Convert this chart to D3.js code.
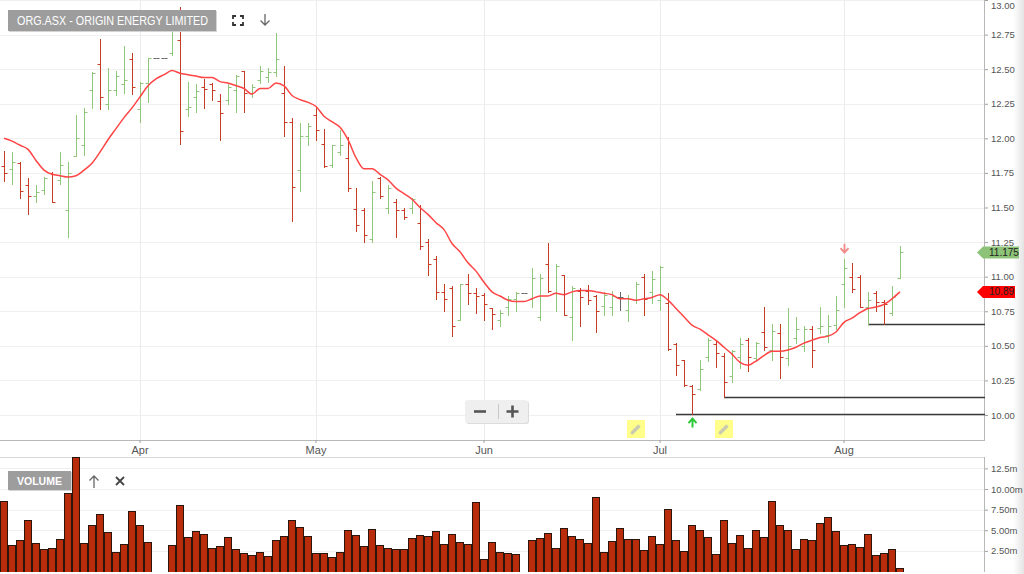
<!DOCTYPE html>
<html>
<head>
<meta charset="utf-8">
<script src="https://cdnjs.cloudflare.com/ajax/libs/d3/7.8.5/d3.min.js"></script>
<style>
html, body { margin: 0; padding: 0; background: #fff; overflow: hidden; }
svg { display: block; font-family: "Liberation Sans", Arial, sans-serif; }
</style>
</head>
<body>
<svg id="chart" width="1024" height="574"></svg>
<script>
// ORG.ASX daily bars, 9 Mar - 12 Aug 2015 (holidays kept as flat bars, zero volume)
var dates = [
  "2015-03-09","2015-03-10","2015-03-11","2015-03-12","2015-03-13","2015-03-16","2015-03-17","2015-03-18","2015-03-19",
  "2015-03-20","2015-03-23","2015-03-24","2015-03-25","2015-03-26","2015-03-27","2015-03-30","2015-03-31",
  "2015-04-01","2015-04-02","2015-04-03","2015-04-06","2015-04-07","2015-04-08","2015-04-09","2015-04-10","2015-04-13",
  "2015-04-14","2015-04-15","2015-04-16","2015-04-17","2015-04-20","2015-04-21","2015-04-22","2015-04-23","2015-04-24",
  "2015-04-27","2015-04-28","2015-04-29","2015-04-30",
  "2015-05-01","2015-05-04","2015-05-05","2015-05-06","2015-05-07","2015-05-08","2015-05-11","2015-05-12","2015-05-13",
  "2015-05-14","2015-05-15","2015-05-18","2015-05-19","2015-05-20","2015-05-21","2015-05-22","2015-05-25","2015-05-26",
  "2015-05-27","2015-05-28","2015-05-29",
  "2015-06-01","2015-06-02","2015-06-03","2015-06-04","2015-06-05","2015-06-08","2015-06-09","2015-06-10","2015-06-11",
  "2015-06-12","2015-06-15","2015-06-16","2015-06-17","2015-06-18","2015-06-19","2015-06-22","2015-06-23","2015-06-24",
  "2015-06-25","2015-06-26","2015-06-29","2015-06-30",
  "2015-07-01","2015-07-02","2015-07-03","2015-07-06","2015-07-07","2015-07-08","2015-07-09","2015-07-10","2015-07-13",
  "2015-07-14","2015-07-15","2015-07-16","2015-07-17","2015-07-20","2015-07-21","2015-07-22","2015-07-23","2015-07-24",
  "2015-07-27","2015-07-28","2015-07-29","2015-07-30","2015-07-31",
  "2015-08-03","2015-08-04","2015-08-05","2015-08-06","2015-08-07","2015-08-10","2015-08-11","2015-08-12"
];
var holidays = ["2015-04-03", "2015-04-06", "2015-06-08"];

var open = [
  11.80,11.78,11.82,11.66,11.58,11.63,11.75,11.70,11.48,11.87,11.95,12.35,12.54,12.25,12.35,12.39,12.57,
  12.21,12.40,12.58,12.58,12.62,12.71,12.21,12.30,12.37,12.39,12.27,12.28,12.35,12.49,12.33,12.42,12.44,12.48,12.33,12.12,11.77,12.02,
  12.17,11.96,11.81,11.90,11.86,11.49,11.48,11.27,11.71,11.50,11.54,11.48,11.50,11.39,11.25,11.13,10.89,10.92,10.69,10.95,10.88,
  10.87,10.77,10.69,10.78,10.84,10.88,10.84,10.71,11.09,10.88,11.01,10.71,10.90,10.90,10.86,10.79,10.78,10.85,10.76,10.83,11.00,10.89,
  10.83,10.81,10.51,10.40,10.21,10.19,10.42,10.51,10.43,10.28,10.42,10.54,10.41,10.60,10.47,10.59,10.41,10.56,10.50,10.62,10.63,10.58,10.65,
  10.95,11.00,11.00,10.78,10.88,10.82,10.74,10.99
];
var high = [
  11.91,11.90,11.83,11.71,11.66,11.72,11.76,11.90,11.83,12.17,12.22,12.48,12.72,12.51,12.49,12.67,12.62,
  12.41,12.58,12.58,12.58,12.93,12.95,12.41,12.39,12.43,12.40,12.32,12.39,12.46,12.49,12.39,12.52,12.51,12.76,12.52,12.15,12.11,12.11,
  12.23,12.07,11.95,12.06,12.01,11.64,11.50,11.69,11.72,11.66,11.56,11.50,11.57,11.52,11.27,11.15,10.95,10.93,10.95,11.02,10.92,
  10.88,10.77,10.76,10.86,10.89,10.88,11.06,11.02,11.24,11.09,11.01,10.93,10.92,10.94,10.87,10.89,10.90,10.89,10.87,10.96,11.02,11.04,
  11.08,10.88,10.52,10.40,10.22,10.40,10.56,10.54,10.45,10.47,10.56,10.56,10.53,10.78,10.66,10.66,10.77,10.71,10.64,10.64,10.78,10.72,10.86,
  11.13,11.10,11.01,10.89,10.90,10.83,10.93,11.22
];
var low = [
  11.69,11.67,11.57,11.45,11.54,11.60,11.54,11.67,11.29,11.87,11.88,12.22,12.21,12.21,12.31,12.33,12.32,
  12.12,12.26,12.58,12.58,12.60,11.96,12.16,12.19,12.22,12.28,11.99,12.25,12.19,12.19,12.30,12.40,12.41,12.45,12.02,11.40,11.62,11.95,
  11.99,11.79,11.79,11.88,11.62,11.33,11.25,11.25,11.57,11.46,11.29,11.42,11.46,11.20,11.01,10.84,10.75,10.57,10.69,10.80,10.74,
  10.69,10.62,10.64,10.72,10.75,10.88,10.78,10.69,10.89,10.75,10.72,10.54,10.64,10.80,10.60,10.72,10.72,10.76,10.68,10.81,10.72,10.81,
  10.76,10.47,10.29,10.21,10.01,10.18,10.39,10.35,10.13,10.24,10.34,10.32,10.39,10.47,10.40,10.27,10.36,10.52,10.46,10.35,10.59,10.53,10.62,
  10.78,10.89,10.78,10.66,10.75,10.66,10.72,10.99
];
var close = [
  11.75,11.83,11.62,11.58,11.61,11.71,11.54,11.81,11.75,12.00,12.19,12.47,12.30,12.35,12.45,12.42,12.37,
  12.40,12.58,12.58,12.58,12.80,12.05,12.23,12.34,12.36,12.35,12.18,12.37,12.45,12.33,12.37,12.49,12.48,12.57,12.12,11.65,12.02,12.09,
  12.06,11.80,11.95,11.95,11.64,11.37,11.30,11.61,11.58,11.64,11.48,11.43,11.56,11.22,11.09,10.89,10.84,10.64,10.95,10.88,10.86,
  10.80,10.73,10.74,10.84,10.88,10.88,10.99,10.99,10.90,11.08,10.72,10.92,10.85,10.83,10.75,10.87,10.86,10.85,10.84,10.95,10.84,10.98,
  11.07,10.48,10.36,10.22,10.15,10.33,10.54,10.45,10.24,10.46,10.51,10.42,10.52,10.49,10.61,10.42,10.50,10.62,10.62,10.47,10.64,10.64,10.76,
  11.06,10.91,10.78,10.83,10.82,10.80,10.85,11.175
];
// volume in millions of shares
var volume = [
  8.59,3.18,3.82,6.21,3.50,2.73,2.85,3.95,9.49,13.86,3.50,5.68,6.98,4.80,2.37,3.30,7.34,
  5.68,3.58,0,0,3.18,8.07,4.15,4.92,4.52,2.85,3.10,4.15,2.73,2.21,2.00,2.33,1.88,3.82,4.27,6.21,5.44,4.27,
  2.21,2.21,1.72,2.40,5.04,4.39,3.10,5.12,3.18,2.85,2.73,2.73,4.03,4.39,4.27,4.92,3.30,4.59,3.62,3.38,8.40,
  1.52,3.58,2.40,2.21,2.09,0,3.82,4.03,4.64,2.82,5.32,4.31,3.91,3.50,9.01,2.37,3.74,5.32,3.91,3.91,2.61,4.35,
  3.34,7.62,3.79,2.49,5.65,5.04,4.15,2.09,6.21,3.46,4.47,2.82,5.04,4.15,8.56,5.65,5.04,2.73,3.95,3.82,5.85,6.65,4.92,
  3.18,3.30,2.97,4.52,2.00,2.28,2.73,0.46
];
// moving average overlay as drawn
var movingAvg = [
  12.00,11.98,11.95,11.92,11.84,11.77,11.74,11.73,11.72,11.73,11.77,11.82,11.90,11.99,12.07,12.15,12.22,
  12.30,12.38,12.43,12.46,12.49,12.47,12.46,12.45,12.44,12.44,12.41,12.40,12.38,12.36,12.32,12.36,12.36,12.40,12.38,12.31,12.28,12.26,
  12.23,12.16,12.12,12.08,11.99,11.86,11.78,11.78,11.74,11.70,11.64,11.60,11.56,11.50,11.45,11.39,11.34,11.24,11.18,11.10,11.04,
  10.96,10.89,10.86,10.83,10.82,10.82,10.84,10.86,10.86,10.88,10.87,10.89,10.90,10.90,10.89,10.88,10.87,10.84,10.84,10.83,10.84,10.85,
  10.87,10.83,10.77,10.71,10.65,10.62,10.58,10.54,10.49,10.44,10.38,10.36,10.39,10.43,10.46,10.46,10.47,10.49,10.52,10.54,10.56,10.57,10.60,
  10.67,10.70,10.74,10.77,10.78,10.80,10.84,10.89
];

var priceTicks = [10, 10.25, 10.5, 10.75, 11, 11.25, 11.5, 11.75, 12, 12.25, 12.5, 12.75, 13];
var volTicks = [2.5, 5, 7.5, 10, 12.5];
var volTickLabels = ["2.50m", "5.00m", "7.50m", "10.00m", "12.5m"];
var monthTickDates = ["2015-04-01", "2015-05-01", "2015-06-01", "2015-07-01", "2015-08-03"];
var monthLabels = ["Apr", "May", "Jun", "Jul", "Aug"];

var lastPrice = 11.175;
var lastAvg = 10.89;
var trendLines = [
  { from: "2015-07-03", price: 10.005 },
  { from: "2015-07-13", price: 10.13 },
  { from: "2015-08-06", price: 10.66 }
];
var signals = [
  { date: "2015-07-07", dir: "up" },
  { date: "2015-08-03", dir: "down" }
];
var noteDates = ["2015-06-26", "2015-07-13"];

// ---- layout
var plotRight = 985;
var price = { top: 0, bottom: 440 };
var vol = { top: 457, bottom: 572 };
var step = 8;

var green = "#8fc67a", red = "#c43d24", flat = "#666";

var svg = d3.select("#chart");

var x = d3.scaleBand().domain(dates).range([0, dates.length * step]);
var cx = function (d) { return x(d) + x.bandwidth() / 2; };
var y = d3.scaleLinear().domain([10, 13]).range([415, 0]);
var yv = d3.scaleLinear().domain([0, 14]).range([571.5, 456]);

var defs = svg.append("defs");
defs.append("clipPath").attr("id", "clipPrice")
  .append("rect").attr("x", 0).attr("y", price.top).attr("width", plotRight).attr("height", price.bottom - price.top);
defs.append("clipPath").attr("id", "clipVol")
  .append("rect").attr("x", 0).attr("y", vol.top).attr("width", plotRight).attr("height", vol.bottom - vol.top);
var grad = defs.append("linearGradient").attr("id", "edge").attr("x1", 0).attr("x2", 1);
grad.append("stop").attr("offset", 0).attr("stop-color", "#fff");
grad.append("stop").attr("offset", 1).attr("stop-color", "#e4e4e4");

// ---- right edge shading (behind the axis text)
svg.append("rect").attr("x", 1013).attr("y", 0).attr("width", 11).attr("height", 574).attr("fill", "url(#edge)");

// ---- grid
var grid = svg.append("g");
grid.selectAll(".hg").data(priceTicks).enter().append("line")
  .attr("x1", 0).attr("x2", plotRight)
  .attr("y1", function (d) { return Math.round(y(d)) + 0.5; })
  .attr("y2", function (d) { return Math.round(y(d)) + 0.5; })
  .attr("stroke", "#f0f0f0");
grid.selectAll(".vg").data(monthTickDates).enter().append("line")
  .attr("x1", function (d) { return cx(d) + 0.5; }).attr("x2", function (d) { return cx(d) + 0.5; })
  .attr("y1", price.top).attr("y2", price.bottom)
  .attr("stroke", "#ececec");
grid.selectAll(".vlg").data(volTicks).enter().append("line")
  .attr("x1", 0).attr("x2", plotRight)
  .attr("y1", function (d) { return Math.round(yv(d)) + 0.5; })
  .attr("y2", function (d) { return Math.round(yv(d)) + 0.5; })
  .attr("stroke", "#f0f0f0");

// ---- frames
svg.append("line").attr("x1", 0).attr("x2", plotRight).attr("y1", price.bottom + 0.5).attr("y2", price.bottom + 0.5).attr("stroke", "#b8b8b8");
svg.append("line").attr("x1", 0).attr("x2", plotRight).attr("y1", vol.top + 0.5).attr("y2", vol.top + 0.5).attr("stroke", "#d6d6d6");
svg.append("line").attr("x1", plotRight - 0.5).attr("x2", plotRight - 0.5).attr("y1", 0).attr("y2", price.bottom).attr("stroke", "#b8b8b8");
svg.append("line").attr("x1", plotRight - 0.5).attr("x2", plotRight - 0.5).attr("y1", vol.top).attr("y2", vol.bottom).attr("stroke", "#b8b8b8");

// ---- trend lines
var plot = svg.append("g").attr("clip-path", "url(#clipPrice)");
plot.selectAll(".trend").data(trendLines).enter().append("line")
  .attr("x1", function (d) { return cx(d.from); }).attr("x2", plotRight)
  .attr("y1", function (d) { return Math.round(y(d.price)) + 0.5; })
  .attr("y2", function (d) { return Math.round(y(d.price)) + 0.5; })
  .attr("stroke", "#3a3a3a").attr("stroke-width", 1.4);

// ---- OHLC bars
var bars = dates.map(function (d, i) {
  return { date: d, o: open[i], h: high[i], l: low[i], c: close[i], hol: holidays.indexOf(d) >= 0 };
});
var colorOf = function (b) {
  if (b.hol || b.c === b.o) return flat;
  return b.c > b.o ? green : red;
};
var py = function (v) { return Math.round(y(v)) + 0.5; };
var bar = plot.selectAll(".bar").data(bars).enter().append("g")
  .attr("stroke", colorOf).attr("stroke-width", 1);
bar.filter(function (b) { return !b.hol; }).append("line")
  .attr("x1", function (b) { return cx(b.date) + 0.5; }).attr("x2", function (b) { return cx(b.date) + 0.5; })
  .attr("y1", function (b) { return Math.round(y(b.h)); }).attr("y2", function (b) { return Math.round(y(b.l)) + 1; });
bar.append("line")
  .attr("x1", function (b) { return cx(b.date) - 2.5; }).attr("x2", function (b) { return cx(b.date) + 0.5; })
  .attr("y1", function (b) { return py(b.o); }).attr("y2", function (b) { return py(b.o); });
bar.append("line")
  .attr("x1", function (b) { return cx(b.date) + 0.5; }).attr("x2", function (b) { return cx(b.date) + 3.5; })
  .attr("y1", function (b) { return py(b.c); }).attr("y2", function (b) { return py(b.c); });

// ---- moving average
plot.append("path")
  .datum(dates)
  .attr("fill", "none").attr("stroke", "#ff4545").attr("stroke-width", 1.5)
  .attr("d", d3.line()
    .x(function (d) { return cx(d); })
    .y(function (d, i) { return y(movingAvg[i]); })
    .curve(d3.curveMonotoneX));

// ---- signal arrows
signals.forEach(function (s) {
  var i = dates.indexOf(s.date);
  var ax = cx(s.date) + 0.5;
  if (s.dir === "up") {
    var top = y(low[i]) + 5;
    svg.append("path")
      .attr("d", "M" + ax + "," + (top + 9) + "V" + (top + 1) + "M" + (ax - 4) + "," + (top + 4.5) + "L" + ax + "," + top + "L" + (ax + 4) + "," + (top + 4.5))
      .attr("fill", "none").attr("stroke", "#2fc83a").attr("stroke-width", 2);
  } else {
    var bot = y(high[i]) - 6;
    svg.append("path")
      .attr("d", "M" + ax + "," + (bot - 9) + "V" + (bot - 1) + "M" + (ax - 4) + "," + (bot - 4.5) + "L" + ax + "," + bot + "L" + (ax + 4) + "," + (bot - 4.5))
      .attr("fill", "none").attr("stroke", "#f08a86").attr("stroke-width", 1.8);
  }
});

// ---- note markers (pencils)
var notes = svg.selectAll(".note").data(noteDates).enter().append("g")
  .attr("transform", function (d) { return "translate(" + (cx(d) - 9) + "," + 420 + ")"; });
notes.append("rect").attr("width", 18).attr("height", 18).attr("fill", "#ffff8a");
notes.append("path").attr("d", "M4.5,13.5 L12.5,5.5").attr("stroke", "#c9c9b4").attr("stroke-width", 3.2).attr("fill", "none");
notes.append("path").attr("d", "M3.5,14.5 L4.2,11.6 L6.4,13.8 Z").attr("fill", "#c9c9b4");

// ---- volume bars
svg.append("g").attr("clip-path", "url(#clipVol)")
  .selectAll("rect").data(dates.filter(function (d, i) { return volume[i] > 0; })).enter().append("rect")
  .attr("x", function (d) { return x(d) + 0.5; })
  .attr("width", x.bandwidth() - 1)
  .attr("y", function (d) { return Math.round(yv(volume[dates.indexOf(d)])) + 0.5; })
  .attr("height", function (d) { return Math.round(yv(0)) - Math.round(yv(volume[dates.indexOf(d)])); })
  .attr("fill", "#b92c0c").attr("stroke", "#2b150d").attr("stroke-width", 1);

// ---- axes
var styleAxis = function (g, size) {
  g.select(".domain").remove();
  g.selectAll(".tick line").attr("stroke", "#a0a0a0");
  g.selectAll(".tick text").attr("fill", "#555").style("font-size", size);
};
var priceAxis = svg.append("g").attr("transform", "translate(" + plotRight + ",0)")
  .call(d3.axisRight(y).tickValues(priceTicks).tickFormat(d3.format(".2f")).tickSize(3).tickPadding(3))
  .call(styleAxis, "9.5px");
// keep the top label inside the picture
priceAxis.selectAll(".tick text").filter(function (d) { return d === 13; }).attr("y", 5);
svg.append("g").attr("transform", "translate(" + plotRight + ",0)")
  .call(d3.axisRight(yv).tickValues(volTicks).tickFormat(function (d, i) { return volTickLabels[i]; }).tickSize(3).tickPadding(3))
  .call(styleAxis, "9.5px");
svg.append("g").attr("transform", "translate(0," + price.bottom + ")")
  .call(d3.axisBottom(x).tickValues(monthTickDates).tickFormat(function (d, i) { return monthLabels[i]; }).tickSize(3).tickPadding(3))
  .call(styleAxis, "11px");

// ---- last value tags
var tag = function (v, fill, right, txt) {
  var ty = y(v);
  svg.append("path")
    .attr("d", "M977," + ty + "L983," + (ty - 6) + "H" + right + "V" + (ty + 6) + "H983Z")
    .attr("fill", fill);
  svg.append("text").attr("x", 989).attr("y", ty + 3.5)
    .attr("fill", "#222").style("font-size", "10px").text(txt);
};
tag(lastPrice, "#8dc378", 1019, "11.175");
tag(lastAvg, "#ff0000", 1015, d3.format(".2f")(lastAvg));

// ---- title box and icons
svg.append("rect").attr("x", 9).attr("y", 11).attr("width", 208).attr("height", 21).attr("fill", "#d4d4d4");
svg.append("rect").attr("x", 8).attr("y", 10).attr("width", 208).attr("height", 21).attr("fill", "#9d9d9d");
svg.append("text").attr("x", 17).attr("y", 25).attr("fill", "#fff")
  .attr("textLength", 191).attr("lengthAdjust", "spacingAndGlyphs")
  .style("font-size", "12px").text("ORG.ASX - ORIGIN ENERGY LIMITED");
svg.append("path")
  .attr("d", "M233,19V16H236 M240,16H243V19 M243,22V25H240 M236,25H233V22")
  .attr("fill", "none").attr("stroke", "#333").attr("stroke-width", 1.8);
svg.append("path")
  .attr("d", "M265,14V25 M260.5,20.5L265,25L269.5,20.5")
  .attr("fill", "none").attr("stroke", "#666").attr("stroke-width", 1.3);

// ---- volume label box and icons
svg.append("rect").attr("x", 9).attr("y", 472).attr("width", 63).attr("height", 19).attr("fill", "#d4d4d4");
svg.append("rect").attr("x", 8).attr("y", 471).attr("width", 63).attr("height", 19).attr("fill", "#9d9d9d");
svg.append("text").attr("x", 17).attr("y", 485).attr("fill", "#fff")
  .attr("textLength", 45).attr("lengthAdjust", "spacingAndGlyphs")
  .style("font-size", "11px").style("font-weight", "bold").text("VOLUME");
svg.append("path")
  .attr("d", "M94,488V476 M89.5,480.5L94,476L98.5,480.5")
  .attr("fill", "none").attr("stroke", "#666").attr("stroke-width", 1.3);
svg.append("path")
  .attr("d", "M116,477L124,485 M124,477L116,485")
  .attr("fill", "none").attr("stroke", "#444").attr("stroke-width", 1.8);

// ---- zoom control
svg.append("rect").attr("x", 466).attr("y", 401).attr("width", 63).attr("height", 23).attr("rx", 3).attr("fill", "#dcdcdc");
svg.append("rect").attr("x", 465).attr("y", 400).attr("width", 63).attr("height", 23).attr("rx", 3).attr("fill", "#efefef");
svg.append("line").attr("x1", 498.5).attr("x2", 498.5).attr("y1", 404).attr("y2", 419).attr("stroke", "#c8c8c8");
svg.append("path").attr("d", "M474,411.5H486").attr("stroke", "#555").attr("stroke-width", 2.6);
svg.append("path").attr("d", "M506.5,411.5H518.5 M512.5,405.5V417.5").attr("stroke", "#555").attr("stroke-width", 2.6);
</script>
</body>
</html>
